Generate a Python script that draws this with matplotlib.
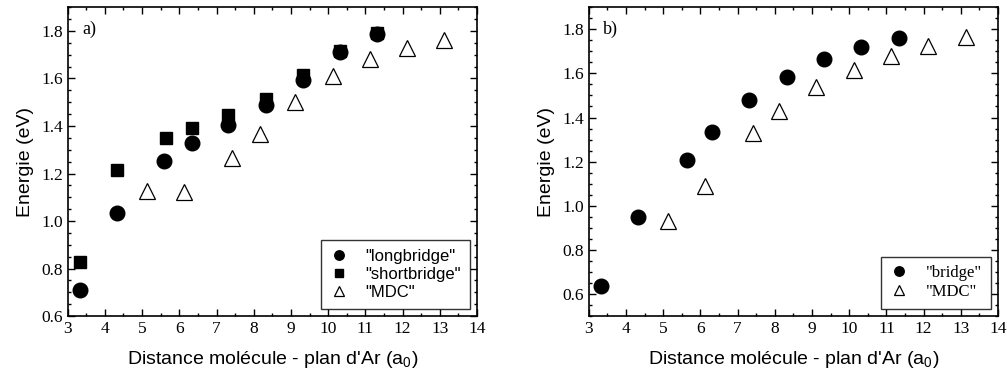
import matplotlib
matplotlib.use('Agg')
import matplotlib.pyplot as plt
from matplotlib.ticker import MultipleLocator

# panel a)
x_long = [3.33, 4.33, 5.60, 6.33, 7.32, 8.33, 9.33, 10.31, 11.32]
y_long = [0.709, 1.035, 1.252, 1.329, 1.406, 1.489, 1.593, 1.712, 1.789]
x_short = [3.33, 4.33, 5.63, 6.33, 7.32, 8.33, 9.33, 10.31, 11.32]
y_short = [0.826, 1.214, 1.350, 1.392, 1.445, 1.513, 1.613, 1.716, 1.793]
x_mdc_a = [5.14, 6.13, 7.42, 8.17, 9.12, 10.12, 11.12, 12.12, 13.12]
y_mdc_a = [1.127, 1.123, 1.265, 1.368, 1.501, 1.609, 1.682, 1.729, 1.764]

# panel b)
x_bridge = [3.32, 4.33, 5.64, 6.32, 7.32, 8.32, 9.32, 10.31, 11.33]
y_bridge = [0.635, 0.950, 1.208, 1.335, 1.478, 1.584, 1.664, 1.718, 1.759]
x_mdc_b = [5.12, 6.12, 7.42, 8.11, 9.11, 10.12, 11.13, 12.12, 13.13]
y_mdc_b = [0.932, 1.088, 1.329, 1.430, 1.537, 1.615, 1.679, 1.725, 1.764]

serif = ['Liberation Serif', 'DejaVu Serif']
sans = ['Liberation Sans', 'DejaVu Sans']
plt.rcParams['mathtext.fontset'] = 'custom'
plt.rcParams['mathtext.rm'] = 'Liberation Sans'

fig = plt.figure(figsize=(10.07, 3.79), dpi=100)
ax_a = fig.add_axes([0.0672, 0.166, 0.4065, 0.815])
ax_b = fig.add_axes([0.5846, 0.166, 0.4065, 0.815])

xlabel = "Distance molécule - plan d'Ar (a$_\\mathregular{0}$)"


def style_axes(ax, ylim, tag):
    ax.set_xlim(3, 14)
    ax.set_ylim(*ylim)
    ax.xaxis.set_major_locator(MultipleLocator(1))
    ax.xaxis.set_minor_locator(MultipleLocator(0.5))
    ax.yaxis.set_major_locator(MultipleLocator(0.2))
    ax.yaxis.set_minor_locator(MultipleLocator(0.05))
    ax.yaxis.set_major_formatter(plt.FuncFormatter(lambda v, p: f'{v:.1f}'))
    ax.tick_params(which='both', direction='in', top=True, right=True,
                   width=1, labelsize=12.5)
    ax.tick_params(which='major', length=5)
    ax.tick_params(which='minor', length=2.5)
    for lab in ax.get_xticklabels() + ax.get_yticklabels():
        lab.set_family(serif)
    for sp in ax.spines.values():
        sp.set_linewidth(1.2)
    ax.set_xlabel(xlabel, family=sans, fontsize=14, labelpad=9)
    ax.set_ylabel('Energie (eV)', family=sans, fontsize=14, labelpad=5)
    ax.text(0.035, 0.955, tag, transform=ax.transAxes, family=serif,
            fontsize=13, va='top', ha='left')


ax_a.plot(x_long, y_long, 'o', color='black', markersize=10.5,
          label='"longbridge"')
ax_a.plot(x_short, y_short, 's', color='black', markersize=9,
          label='"shortbridge"', zorder=1)
ax_a.plot(x_mdc_a, y_mdc_a, '^', color='black', markerfacecolor='white',
          markersize=11, markeredgewidth=0.9, label='"MDC"')
style_axes(ax_a, (0.6, 1.9), 'a)')
leg = ax_a.legend(loc='lower right', prop={'family': sans, 'size': 12},
                  frameon=True, fancybox=False, edgecolor='black',
                  markerscale=0.65, handlelength=1.2, handletextpad=1.0,
                  borderaxespad=0.45, labelspacing=0.2, borderpad=0.5)
leg.get_frame().set_linewidth(1)

ax_b.plot(x_bridge, y_bridge, 'o', color='black', markersize=10.5,
          label='"bridge"')
ax_b.plot(x_mdc_b, y_mdc_b, '^', color='black', markerfacecolor='white',
          markersize=11, markeredgewidth=0.9, label='"MDC"')
style_axes(ax_b, (0.5, 1.9), 'b)')
leg = ax_b.legend(loc='lower right', prop={'family': serif, 'size': 12},
                  frameon=True, fancybox=False, edgecolor='black',
                  markerscale=0.65, handlelength=1.2, handletextpad=1.0,
                  borderaxespad=0.45, labelspacing=0.2, borderpad=0.5)
leg.get_frame().set_linewidth(1)

fig.savefig('out.png', dpi=100)
